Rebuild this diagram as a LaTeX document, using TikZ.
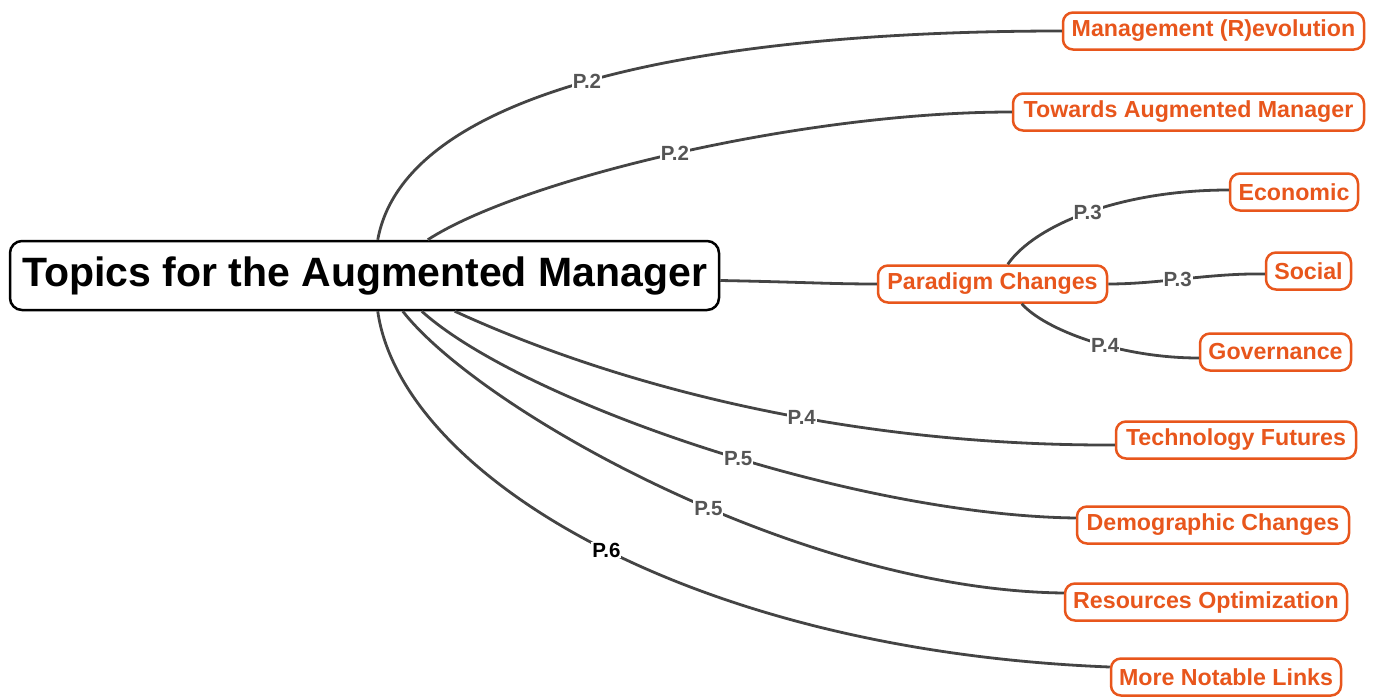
\documentclass[tikz,border=0pt]{standalone}
\usepackage{fontspec}
\setmainfont{Liberation Sans}
\definecolor{org}{HTML}{E8561C}
\definecolor{ln}{HTML}{444444}
\definecolor{lb}{HTML}{555555}
\begin{document}
\begin{tikzpicture}[x=1pt,y=-1pt,
 topic/.style={draw=org, line width=2.5pt, rounded corners=10pt, fill=white, text=org,
   font=\fontsize{23.2}{27}\selectfont\bfseries, minimum height=37pt, inner xsep=0pt, inner ysep=0pt},
 central/.style={draw=black, line width=2.5pt, rounded corners=12pt, fill=white,
   font=\fontsize{41}{48}\selectfont\bfseries, minimum width=709pt, minimum height=69pt, inner sep=0pt},
 conn/.style={draw=ln, line width=2.8pt},
 lab/.style={fill=white, text=lb, inner sep=1pt, font=\fontsize{20.5}{24}\selectfont\bfseries},
]
\useasboundingbox (0,0) rectangle (1375,696);

\node[central] (c) at (364.5,275.5) {Topics for the Augmented Manager};

\node[topic, minimum width=301pt] (mr) at (1213.5,31) {Management (R)evolution};
\node[topic, minimum width=351pt] (ta) at (1188.5,112) {Towards Augmented Manager};
\node[topic, minimum width=128pt] (ec) at (1294,192) {Economic};
\node[topic, minimum width=85pt]  (so) at (1308.5,271) {Social};
\node[topic, minimum width=151pt] (go) at (1275.5,352) {Governance};
\node[topic, minimum width=229pt] (pc) at (992.5,284) {Paradigm Changes};
\node[topic, minimum width=240pt] (tf) at (1236,440) {Technology Futures};
\node[topic, minimum width=272pt] (dc) at (1213,525) {Demographic Changes};
\node[topic, minimum width=282pt] (ro) at (1206,602) {Resources Optimization};
\node[topic, minimum width=230pt] (ml) at (1226,677) {More Notable Links};

\draw[conn] ([xshift=369pt]c.north west) .. controls (405,90) and (700,31) .. (mr.west)
  node[lab, pos=0.49] {P.2};
\draw[conn] ([xshift=419pt]c.north west) .. controls (520,180) and (800,112) .. (ta.west)
  node[lab, pos=0.5] {P.2};
\draw[conn] ([yshift=-5pt]c.east) .. controls (800,282) and (830,284) .. (pc.west);
\draw[conn] ([xshift=131pt]pc.north west) .. controls (1035,225) and (1120,190) .. ([yshift=2pt]ec.west)
  node[lab, pos=0.5] {P.3};
\draw[conn] (pc.east) .. controls (1160,284) and (1210,273) .. ([yshift=-3pt]so.west)
  node[lab, pos=0.45] {P.3};
\draw[conn] ([xshift=145pt]pc.south west) .. controls (1045,330) and (1120,358) .. ([yshift=-6pt]go.west)
  node[lab, pos=0.58] {P.4};
\draw[conn] ([xshift=446pt]c.south west) .. controls (620,387) and (850,446) .. ([yshift=-5pt]tf.west)
  node[lab, pos=0.58] {P.4};
\draw[conn] ([xshift=413pt]c.south west) .. controls (520,400) and (850,515) .. ([yshift=7pt]dc.west)
  node[lab, pos=0.55] {P.5};
\draw[conn] ([xshift=394pt]c.south west) .. controls (480,410) and (800,590) .. ([yshift=9pt]ro.west)
  node[lab, pos=0.56] {P.5};
\draw[conn] ([xshift=369pt]c.south west) .. controls (400,470) and (680,650) .. ([yshift=10pt]ml.west)
  node[lab, pos=0.52, text=black] {P.6};
\end{tikzpicture}
\end{document}
